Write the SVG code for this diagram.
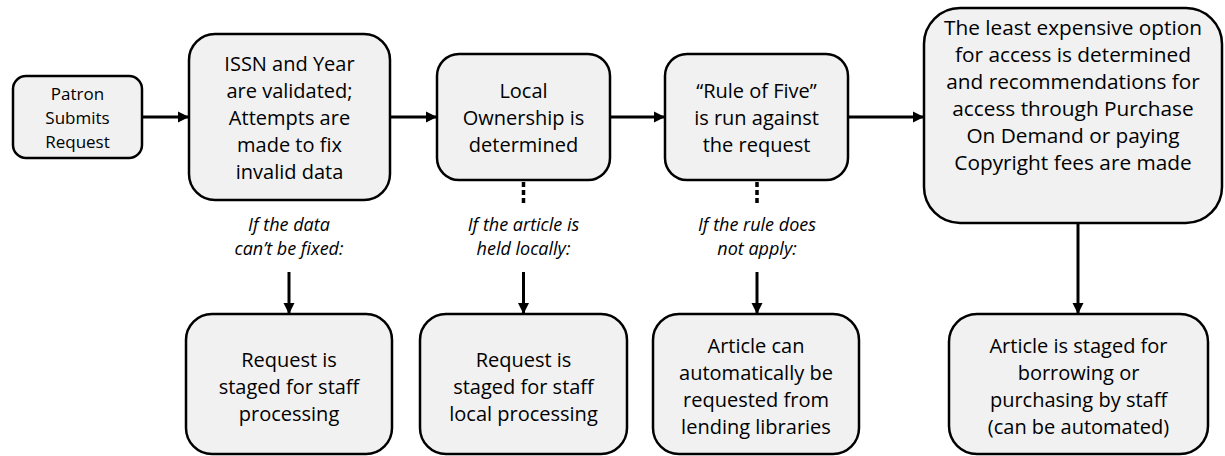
<svg xmlns="http://www.w3.org/2000/svg" width="1225" height="456" viewBox="0 0 1225 456">
<style>
.box{fill:#f1f1f1;stroke:#000;stroke-width:2.5}
.t{font-family:"Open Sans","Noto Sans","Liberation Sans",sans-serif;font-size:20px;fill:#000;text-anchor:middle}
.ts{font-size:17px}
.tb{font-size:20.8px}
.it{font-family:"Open Sans","Noto Sans","Liberation Sans",sans-serif;font-size:18px;font-style:italic;fill:#000;text-anchor:middle}
.c{stroke:#000;stroke-width:3;fill:none}
.d{stroke:#000;stroke-width:3.5;fill:none;stroke-dasharray:5 3}
</style>
<defs>
<marker id="ah" viewBox="0 0 10 10" refX="10" refY="5" markerWidth="3.8" markerHeight="3.8" markerUnits="strokeWidth" orient="auto">
<path d="M0,0 L10,5 L0,10 z" fill="#000"/>
</marker>
</defs>
<rect width="1225" height="456" fill="#fff"/>
<g id="connectors">
<line class="c" x1="142" y1="117" x2="189" y2="117" marker-end="url(#ah)"/>
<line class="c" x1="390" y1="117" x2="437" y2="117" marker-end="url(#ah)"/>
<line class="c" x1="610" y1="117" x2="665" y2="117" marker-end="url(#ah)"/>
<line class="c" x1="848" y1="117" x2="924" y2="117" marker-end="url(#ah)"/>
<line class="d" x1="523.5" y1="182" x2="523.5" y2="205"/>
<line class="d" x1="757" y1="182" x2="757" y2="205"/>
<line class="c" x1="289" y1="272" x2="289" y2="314" marker-end="url(#ah)"/>
<line class="c" x1="523.5" y1="272" x2="523.5" y2="314" marker-end="url(#ah)"/>
<line class="c" x1="757" y1="272" x2="757" y2="314" marker-end="url(#ah)"/>
<line class="c" x1="1078" y1="224" x2="1078" y2="314" marker-end="url(#ah)"/>
</g>
<g id="patron">
<rect class="box" x="13" y="76" width="129" height="82" rx="13"/>
<text class="t ts" x="77.5" y="100">Patron</text>
<text class="t ts" x="77.5" y="124">Submits</text>
<text class="t ts" x="77.5" y="148">Request</text>
</g>
<g id="validate">
<rect class="box" x="189" y="34" width="201" height="166" rx="26"/>
<text class="t" x="289.5" y="71">ISSN and Year</text>
<text class="t" x="289.5" y="98">are validated;</text>
<text class="t" x="289.5" y="125">Attempts are</text>
<text class="t" x="289.5" y="152">made to fix</text>
<text class="t" x="289.5" y="179">invalid data</text>
</g>
<g id="ownership">
<rect class="box" x="437" y="54" width="173" height="126" rx="22"/>
<text class="t" x="523.5" y="98">Local</text>
<text class="t" x="523.5" y="125">Ownership is</text>
<text class="t" x="523.5" y="152">determined</text>
</g>
<g id="rule">
<rect class="box" x="665" y="54" width="183" height="126" rx="22"/>
<text class="t" x="756.5" y="98">“Rule of Five”</text>
<text class="t" x="756.5" y="125">is run against</text>
<text class="t" x="756.5" y="152">the request</text>
</g>
<g id="cost">
<rect class="box" x="924" y="8" width="298" height="215" rx="36"/>
<text class="t tb" x="1073" y="35">The least expensive option</text>
<text class="t tb" x="1073" y="62">for access is determined</text>
<text class="t tb" x="1073" y="89">and recommendations for</text>
<text class="t tb" x="1073" y="116">access through Purchase</text>
<text class="t tb" x="1073" y="143">On Demand or paying</text>
<text class="t tb" x="1073" y="170">Copyright fees are made</text>
</g>
<g id="label-data">
<text class="it" x="289" y="231">If the data</text>
<text class="it" x="289" y="255">can’t be fixed:</text>
</g>
<g id="label-held">
<text class="it" x="523.5" y="231">If the article is</text>
<text class="it" x="523.5" y="255">held locally:</text>
</g>
<g id="label-rule">
<text class="it" x="757" y="231">If the rule does</text>
<text class="it" x="757" y="255">not apply:</text>
</g>
<g id="staff">
<rect class="box" x="186" y="314" width="206" height="140" rx="26"/>
<text class="t" x="289" y="367">Request is</text>
<text class="t" x="289" y="394">staged for staff</text>
<text class="t" x="289" y="421">processing</text>
</g>
<g id="local">
<rect class="box" x="420" y="314" width="207" height="140" rx="26"/>
<text class="t" x="523.5" y="367">Request is</text>
<text class="t" x="523.5" y="394">staged for staff</text>
<text class="t" x="523.5" y="421">local processing</text>
</g>
<g id="lending">
<rect class="box" x="653" y="314" width="206" height="140" rx="26"/>
<text class="t" x="756" y="353">Article can</text>
<text class="t" x="756" y="380">automatically be</text>
<text class="t" x="756" y="407">requested from</text>
<text class="t" x="756" y="434">lending libraries</text>
</g>
<g id="borrow">
<rect class="box" x="949" y="314" width="259" height="140" rx="28"/>
<text class="t" x="1078.5" y="353">Article is staged for</text>
<text class="t" x="1078.5" y="380">borrowing or</text>
<text class="t" x="1078.5" y="407">purchasing by staff</text>
<text class="t" x="1078.5" y="434">(can be automated)</text>
</g>
</svg>
